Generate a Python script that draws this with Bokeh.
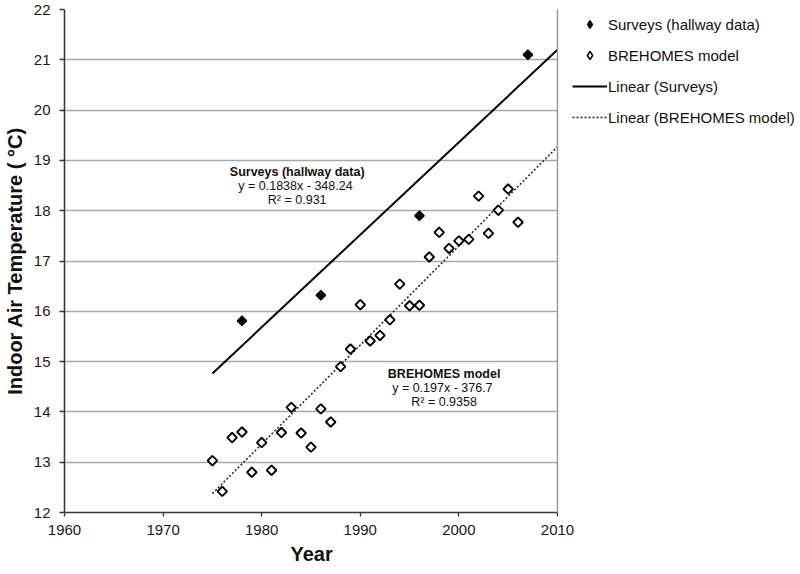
import numpy as np
from bokeh.plotting import figure
from bokeh.models import (BoxAnnotation, ColumnDataSource, FixedTicker, Label,
                          Legend, LegendItem, Range1d, Span, Title)
from bokeh.embed import file_html
from bokeh.resources import INLINE

# ---------------- data ----------------
survey_years = [1978, 1986, 1996, 2007]
survey_temps = [15.81, 16.32, 17.90, 21.10]

brehomes_years = [1975, 1976, 1977, 1978, 1979, 1980, 1981, 1982, 1983, 1984,
                  1985, 1986, 1987, 1988, 1989, 1990, 1991, 1992, 1993, 1994,
                  1995, 1996, 1997, 1998, 1999, 2000, 2001, 2002, 2003, 2004,
                  2005, 2006]
brehomes_temps = [13.03, 12.42, 13.49, 13.60, 12.80, 13.39, 12.84, 13.59, 14.09, 13.58,
                  13.30, 14.06, 13.80, 14.90, 15.25, 16.13, 15.41, 15.52, 15.83, 16.54,
                  16.11, 16.12, 17.08, 17.57, 17.25, 17.40, 17.43, 18.29, 17.55, 18.01,
                  18.43, 17.77]

# trendline coefficients (slope, intercept) as printed on the chart
survey_fit = [0.1838, -348.24]
survey_r2 = "0.931"
brehomes_fit = [0.197, -376.7]
brehomes_r2 = "0.9358"
trend_years = [1975, 2010]

x_ticks = [1960, 1970, 1980, 1990, 2000, 2010]
y_ticks = [12, 13, 14, 15, 16, 17, 18, 19, 20, 21, 22]
x_min, x_max = 1960, 2010
y_min, y_max = 12, 22

FONT = "Liberation Sans"

# layout (pixels)
W, H = 797, 568
FL, FT, FW, FH = 61, 9, 495, 503          # FW = width of the 1960-2010 plot box
x_view_end = x_min + (W - FL) * (x_max - x_min) / FW   # frame extends under legend

# ---------------- figure ----------------
p = figure(width=W, height=H, output_backend="svg", toolbar_location=None,
           x_range=Range1d(x_min, x_view_end), y_range=Range1d(y_min, y_max),
           min_border_left=FL, min_border_right=0,
           min_border_top=FT, min_border_bottom=H - FT - FH)

p.background_fill_color = "white"
p.border_fill_color = "white"
p.outline_line_color = None

p.xgrid.visible = False
p.ygrid.grid_line_color = "#a8a8a8"
p.ygrid.grid_line_width = 1.3

# blank out the gridlines right of the plot box (legend area)
p.add_layout(BoxAnnotation(left=x_max, fill_color="white", fill_alpha=1,
                           line_alpha=0, level="underlay"))
# right border of the plot box
p.add_layout(Span(location=x_max, dimension="height", line_color="#9a9a9a",
                  line_width=1.5))

for ax in (p.xaxis[0], p.yaxis[0]):
    ax.axis_line_color = "#383838"
    ax.axis_line_width = 1.6
    ax.major_tick_line_color = "#383838"
    ax.major_tick_line_width = 1.3
    ax.major_tick_in = 0
    ax.minor_tick_line_color = None
    ax.major_label_text_font = FONT
    ax.major_label_text_font_size = "15px"
    ax.major_label_text_color = "#1a1a1a"
    ax.axis_label_text_font = FONT
    ax.axis_label_text_font_style = "bold"
    ax.axis_label_text_font_size = "20px"
    ax.axis_label_text_color = "#111111"

p.xaxis[0].ticker = FixedTicker(ticks=x_ticks)
p.xaxis[0].bounds = (x_min, x_max)
p.yaxis[0].ticker = FixedTicker(ticks=y_ticks)
p.xaxis[0].major_tick_out = 4
p.yaxis[0].major_tick_out = 5
p.xaxis[0].major_label_standoff = 8
p.yaxis[0].major_label_standoff = 9
p.yaxis[0].axis_label = "Indoor Air Temperature ( °C)"
p.yaxis[0].axis_label_standoff = 5

# x axis title, centred under the 1960-2010 box
year_w = 43
p.add_layout(Title(text="Year", align="left", offset=FW / 2 - year_w / 2,
                   text_font=FONT, text_font_style="bold",
                   text_font_size="20px", text_color="#111111",
                   standoff=7), "below")

# ---------------- trend lines ----------------
tx = np.array(trend_years, dtype=float)
surv_line = p.line(tx, survey_fit[0] * tx + survey_fit[1],
                   line_color="black", line_width=2)
bre_line = p.line(tx, brehomes_fit[0] * tx + brehomes_fit[1],
                  line_color="#222222", line_width=1.5, line_dash="2 2")

# ---------------- markers ----------------
src_b = ColumnDataSource(dict(x=brehomes_years, y=brehomes_temps))
src_s = ColumnDataSource(dict(x=survey_years, y=survey_temps))

# small diamonds (hidden under the markers) give the legend its swatches
leg_b = p.scatter("x", "y", source=src_b, marker="diamond", size=5,
                  fill_color="white", line_color="black", line_width=1.5)
leg_s = p.scatter("x", "y", source=src_s, marker="diamond", size=5,
                  fill_color="black", line_color="black", line_width=1.2)

bre_pts = p.scatter("x", "y", source=src_b, marker="square", angle=np.pi / 4,
                    size=6.8, fill_color="white", line_color="black",
                    line_width=1.9)
surv_pts = p.scatter("x", "y", source=src_s, marker="square", angle=np.pi / 4,
                     size=6.8, fill_color="black", line_color="black",
                     line_width=1.2)

# ---------------- equation labels ----------------
def eq_labels(xc, y_top, title, fit, r2):
    sl, ic = fit
    sign = "-" if ic < 0 else "+"
    lines = [(title, "bold"),
             (f"y = {sl}x  {sign} {abs(ic)}", "normal"),
             (f"R² = {r2}", "normal")]
    for i, (txt, style) in enumerate(lines):
        p.add_layout(Label(x=xc, y=y_top, y_offset=-14 * i, text=txt,
                           x_units="data", y_units="data",
                           text_align="center", text_baseline="middle",
                           text_font=FONT, text_font_size="12.5px",
                           text_font_style=style, text_color="#111111"))

eq_labels(1983.6, 18.77, "Surveys (hallway data)", survey_fit, survey_r2)
eq_labels(1998.5, 14.76, "BREHOMES model", brehomes_fit, brehomes_r2)

# ---------------- legend ----------------
n_items, gh, sp, pad = 4, 20, 11, 0
leg_h = 2 * pad + n_items * gh + (n_items - 1) * sp
legend = Legend(items=[
    LegendItem(label="Surveys (hallway data)", renderers=[leg_s]),
    LegendItem(label="BREHOMES model", renderers=[leg_b]),
    LegendItem(label="Linear (Surveys)", renderers=[surv_line]),
    LegendItem(label="Linear (BREHOMES model)", renderers=[bre_line]),
], location=(FW + 13, FH - leg_h - 5))
legend.glyph_width = 35
legend.glyph_height = gh
legend.label_height = gh
legend.spacing = sp
legend.padding = pad
legend.margin = 0
legend.label_standoff = 1
legend.label_text_font = FONT
legend.label_text_font_size = "15px"
legend.label_text_color = "#111111"
legend.background_fill_alpha = 0
legend.border_line_alpha = 0
p.add_layout(legend, "center")

open("out.html", "w").write(file_html(p, INLINE))
